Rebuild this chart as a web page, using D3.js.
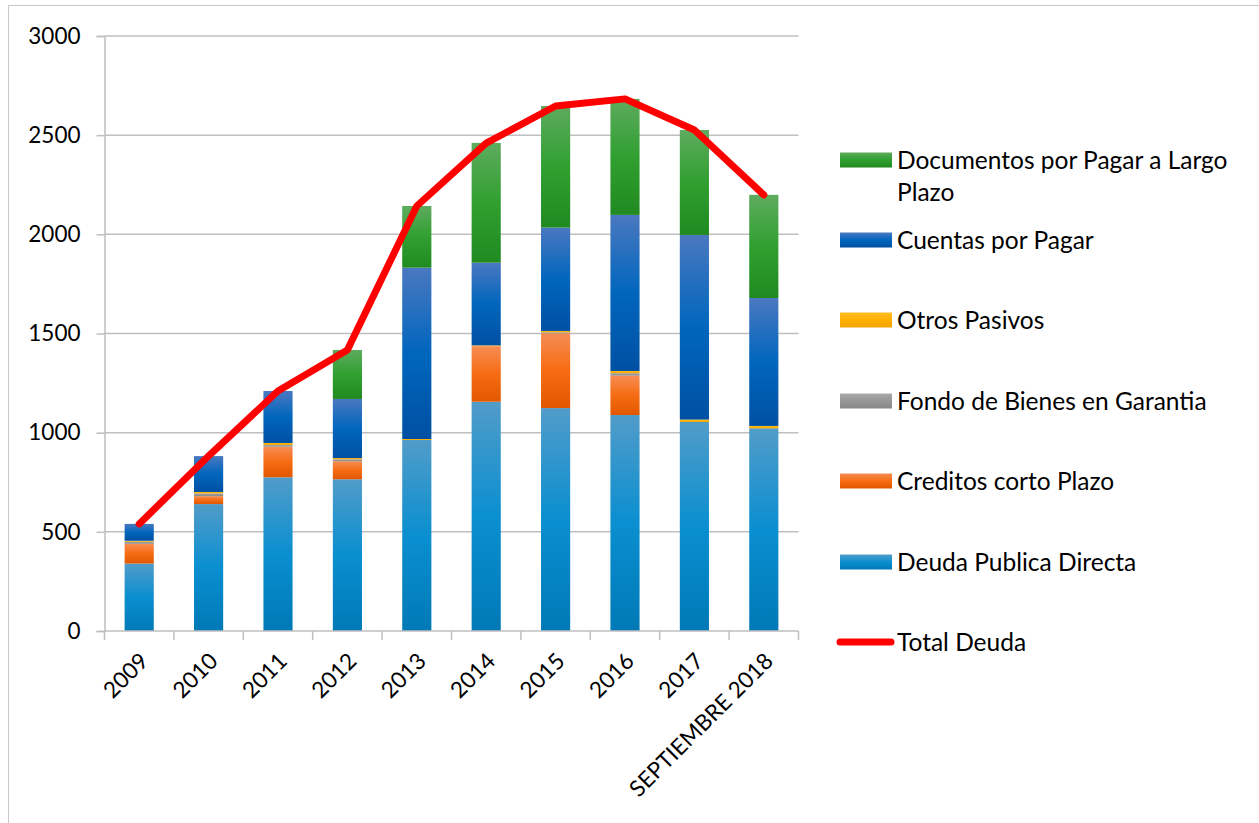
<!DOCTYPE html>
<html lang="es">
<head>
<meta charset="utf-8">
<script src="https://d3js.org/d3.v7.min.js"></script>
<style>
  body { margin: 0; background: #fff; }
  text { font-family: Lato, "Open Sans", sans-serif; fill: #000; }
</style>
</head>
<body>
<script>
// datos
var years = ["2009", "2010", "2011", "2012", "2013", "2014", "2015", "2016", "2017", "SEPTIEMBRE 2018"];
var deudaPublica  = [340, 640, 775, 765, 963, 1156, 1124, 1089, 1054, 1022];
var creditosCorto = [100, 40, 155, 91, 0, 280, 377, 199, 0, 0];
var fondoBienes   = [10, 14, 8, 10, 0, 0, 5, 12, 0, 0];
var otrosPasivos  = [5, 7, 10, 6, 5, 4, 7, 11, 12, 12];
var cuentasPagar  = [85, 181, 262, 298, 864, 417, 521, 787, 931, 645];
var documentos    = [0, 0, 0, 247, 311, 604, 613, 585, 529, 520];
var totalDeuda    = [540, 882, 1210, 1417, 2143, 2460, 2647, 2683, 2526, 2199];
var yTicks = [0, 500, 1000, 1500, 2000, 2500, 3000];

var width = 1259, height = 823;
var plotLeft = 104.5, plotRight = 798.5, plotTop = 36, plotBottom = 631;

var svg = d3.select("body").append("svg")
  .attr("width", width)
  .attr("height", height);

// series (abajo -> arriba)
var series = [
  { key: "dpd", name: "Deuda Publica Directa", values: deudaPublica, stops: ["#519cc9", "#0a8fd0", "#0079b6"] },
  { key: "ccp", name: "Creditos corto Plazo", values: creditosCorto, stops: ["#f68d55", "#f66c12", "#e25800"] },
  { key: "fbg", name: "Fondo de Bienes en Garantia", values: fondoBienes, stops: ["#aaaaaa", "#969696", "#888888"] },
  { key: "op", name: "Otros Pasivos", values: otrosPasivos, stops: ["#ffbb22", "#ffb000", "#f2a400"] },
  { key: "cxp", name: "Cuentas por Pagar", values: cuentasPagar, stops: ["#4a78c0", "#0066bd", "#0050a2"] },
  { key: "doc", name: "Documentos por Pagar a Largo Plazo", values: documentos, stops: ["#5eab5e", "#30a030", "#208a20"] }
];

var defs = svg.append("defs");
series.forEach(function (s) {
  var g = defs.append("linearGradient")
    .attr("id", "grad-" + s.key)
    .attr("x1", 0).attr("y1", 0).attr("x2", 0).attr("y2", 1);
  g.append("stop").attr("offset", "0%").attr("stop-color", s.stops[0]);
  g.append("stop").attr("offset", "50%").attr("stop-color", s.stops[1]);
  g.append("stop").attr("offset", "100%").attr("stop-color", s.stops[2]);
});

// borde exterior
svg.append("rect")
  .attr("x", 8.5).attr("y", 5.5)
  .attr("width", 1262).attr("height", 840)
  .attr("fill", "none")
  .attr("stroke", "#c8c8c8");

var x = d3.scaleBand().domain(years).range([plotLeft, plotRight]).paddingInner(0.58).paddingOuter(0.29);
var xEdge = d3.scaleLinear().domain([0, years.length]).range([plotLeft, plotRight]);
var y = d3.scaleLinear().domain([0, 3000]).range([plotBottom, plotTop]);

// rejilla
svg.append("g").selectAll("line")
  .data(yTicks.filter(function (d) { return d > 0; }))
  .join("line")
  .attr("x1", plotLeft).attr("x2", plotRight)
  .attr("y1", function (d) { return y(d); })
  .attr("y2", function (d) { return y(d); })
  .attr("stroke", "#bfbfbf")
  .attr("stroke-width", 1.5);

// eje y
var yAxis = svg.append("g").attr("transform", "translate(" + plotLeft + ",0)")
  .call(d3.axisLeft(y).tickValues(yTicks).tickFormat(d3.format("d")).tickSize(8).tickPadding(16));
yAxis.select(".domain").attr("stroke", "#bfbfbf").attr("stroke-width", 1.5);
yAxis.selectAll(".tick line").attr("stroke", "#bfbfbf").attr("stroke-width", 1.5);
yAxis.selectAll(".tick text")
  .style("font-size", "22.5px")
  .style("font-family", "Lato, sans-serif")
  .attr("fill", "#000");

// barras apiladas
var table = years.map(function (yr, i) {
  var row = { year: yr };
  series.forEach(function (s) { row[s.key] = s.values[i]; });
  return row;
});
var stacked = d3.stack().keys(series.map(function (s) { return s.key; }))(table);

svg.append("g").selectAll("g")
  .data(stacked)
  .join("g")
  .attr("fill", function (d) { return "url(#grad-" + d.key + ")"; })
  .selectAll("rect")
  .data(function (d) { return d; })
  .join("rect")
  .attr("x", function (d) { return x(d.data.year); })
  .attr("width", x.bandwidth())
  .attr("y", function (d) { return y(d[1]); })
  .attr("height", function (d) { return y(d[0]) - y(d[1]); });

// eje x
svg.append("line")
  .attr("x1", plotLeft).attr("x2", plotRight)
  .attr("y1", plotBottom).attr("y2", plotBottom)
  .attr("stroke", "#bfbfbf").attr("stroke-width", 1.5);
svg.append("g").selectAll("line")
  .data(d3.range(years.length + 1))
  .join("line")
  .attr("x1", function (d) { return xEdge(d); })
  .attr("x2", function (d) { return xEdge(d); })
  .attr("y1", plotBottom).attr("y2", plotBottom + 9)
  .attr("stroke", "#bfbfbf").attr("stroke-width", 1.5);

svg.append("g").selectAll("text")
  .data(years)
  .join("text")
  .attr("transform", function (d) {
    return "translate(" + (x(d) + x.bandwidth() / 2 + 5) + "," + (plotBottom + 26) + ") rotate(-45)";
  })
  .attr("text-anchor", "end")
  .attr("dy", "0.35em")
  .style("font-size", "22.5px")
  .text(function (d) { return d; });

// linea total
var line = d3.line()
  .x(function (d, i) { return x(years[i]) + x.bandwidth() / 2; })
  .y(function (d) { return y(d); });
svg.append("path")
  .datum(totalDeuda)
  .attr("d", line)
  .attr("fill", "none")
  .attr("stroke", "#ff0000")
  .attr("stroke-width", 7)
  .attr("stroke-linejoin", "round")
  .attr("stroke-linecap", "round");

// leyenda
var legendRows = [
  { key: "doc", lines: ["Documentos por Pagar a Largo", "Plazo"], y: 160 },
  { key: "cxp", lines: ["Cuentas por Pagar"], y: 240 },
  { key: "op", lines: ["Otros Pasivos"], y: 320 },
  { key: "fbg", lines: ["Fondo de Bienes en Garantia"], y: 401 },
  { key: "ccp", lines: ["Creditos corto Plazo"], y: 481 },
  { key: "dpd", lines: ["Deuda Publica Directa"], y: 562 }
];
var legend = svg.append("g");
legendRows.forEach(function (r) {
  legend.append("rect")
    .attr("x", 840).attr("y", r.y - 7.5)
    .attr("width", 52).attr("height", 15)
    .attr("fill", "url(#grad-" + r.key + ")");
  var t = legend.append("text")
    .attr("x", 897).attr("y", r.y)
    .style("font-size", "24.5px");
  r.lines.forEach(function (ln, i) {
    t.append("tspan").attr("x", 897).attr("dy", i === 0 ? "0.35em" : "32px").text(ln);
  });
});
legend.append("line")
  .attr("x1", 840).attr("x2", 891)
  .attr("y1", 642).attr("y2", 642)
  .attr("stroke", "#ff0000").attr("stroke-width", 7).attr("stroke-linecap", "round");
legend.append("text")
  .attr("x", 897).attr("y", 642).attr("dy", "0.35em")
  .style("font-size", "24.5px")
  .text("Total Deuda");
</script>
</body>
</html>
